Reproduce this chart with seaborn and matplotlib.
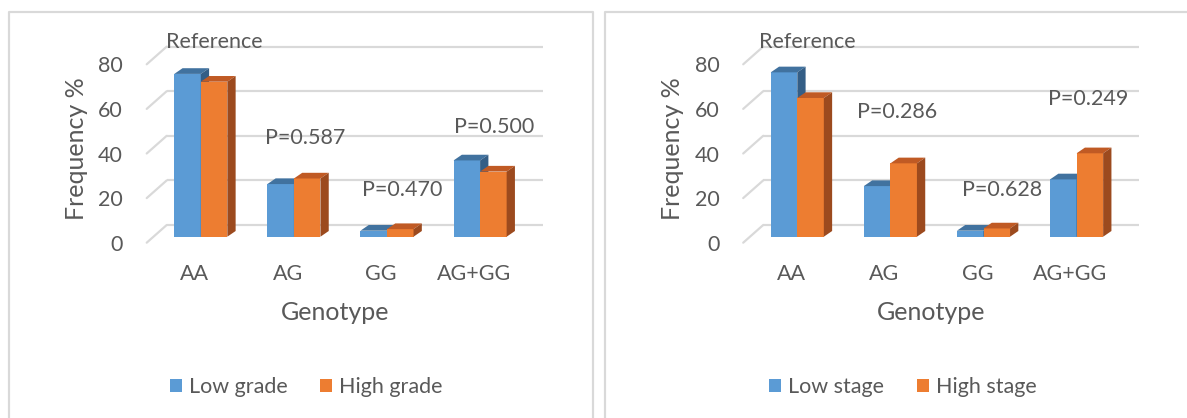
import numpy as np
import pandas as pd
import matplotlib
matplotlib.use("Agg")
import matplotlib.pyplot as plt
from matplotlib.patches import Polygon
from matplotlib.lines import Line2D
import seaborn as sns

# ---- data -------------------------------------------------------------
genotypes = ["AA", "AG", "GG", "AG+GG"]

grade_groups = ["Low grade", "High grade"]
grade_low = [73.0, 23.6, 2.7, 34.2]
grade_high = [69.5, 26.1, 3.4, 29.2]
grade_pvalues = ["P=0.587", "P=0.470", "P=0.500"]

stage_groups = ["Low stage", "High stage"]
stage_low = [73.7, 22.7, 2.7, 25.7]
stage_high = [62.2, 32.9, 3.7, 37.4]
stage_pvalues = ["P=0.286", "P=0.628", "P=0.249"]

y_ticks = [0, 20, 40, 60, 80]

# annotation anchors (category units, percent units)
grade_ref_pos = (0.142, 87.1)
grade_p_pos = [(1.119, 44.3), (2.158, 20.9), (3.150, 49.2)]
stage_ref_pos = (0.110, 87.5)
stage_p_pos = [(1.068, 55.9), (2.201, 20.9), (3.126, 61.7)]

# ---- style ------------------------------------------------------------
sns.set_theme(style="white")
plt.rcParams["font.family"] = ["Lato", "DejaVu Sans"]

TEXT = "#595959"
GRID = "#d9d9d9"
FRONT = ["#5B9BD5", "#ED7D31"]
TOP = ["#41729F", "#C05A24"]
SIDE = ["#345E86", "#9C4A1E"]

W, H = 1187, 418
DPI = 100
CAT_PX = 93.1     # pixels per category step
UNIT_PX = 2.23    # pixels per percentage point
TICK_FS = 15.5
TITLE_FS = 18

# oblique depth offsets
BAR_DX, BAR_DY = 8.3 / CAT_PX, 5.7 / UNIT_PX
BACK_DY = 11.7 / UNIT_PX
FRONT_DY = -6.0 / UNIT_PX
BACK_X0, BACK_X1 = -34.1 / CAT_PX, 341.9 / CAT_PX
FRONT_X = -54.1 / CAT_PX

fig = plt.figure(figsize=(W / DPI, H / DPI), dpi=DPI)
fig.patch.set_facecolor("white")


def px2pt(p):
    return p * 72.0 / DPI


def fig_line(xs, ys):
    fig.add_artist(Line2D([x / W for x in xs], [1 - y / H for y in ys],
                          color=GRID, lw=px2pt(2.2), transform=fig.transFigure))


def draw_panel(ox, low, high, groups, pvals, p_pos, ref_pos):
    oy = 236.7
    left, right, top, bottom = ox - 70.8, ox + 359.2, 30.0, 250.0
    ax = fig.add_axes([left / W, 1 - bottom / H, (right - left) / W, (bottom - top) / H])

    df = pd.DataFrame({
        "Genotype": genotypes * 2,
        "Group": [groups[0]] * len(genotypes) + [groups[1]] * len(genotypes),
        "Frequency": list(low) + list(high),
    })
    sns.barplot(data=df, x="Genotype", y="Frequency", hue="Group",
                palette=FRONT, saturation=1, width=0.57, errorbar=None,
                linewidth=0, ax=ax)

    ax.set_xlim((left - ox) / CAT_PX, (right - ox) / CAT_PX)
    ax.set_ylim(-(bottom - oy) / UNIT_PX, (oy - top) / UNIT_PX)

    # back wall gridlines with their receding floor edges
    for v in y_ticks:
        ax.plot([BACK_X0, BACK_X1], [v + BACK_DY] * 2, color=GRID, lw=px2pt(2.2),
                zorder=0.5, solid_capstyle="butt")
        ax.plot([FRONT_X, BACK_X0], [v + FRONT_DY, v + BACK_DY], color=GRID,
                lw=px2pt(2.2), zorder=0.5)

    # extrude each bar: top and right side faces
    for k, cont in enumerate(ax.containers):
        for bar in cont:
            x, w, h = bar.get_x(), bar.get_width(), bar.get_height()
            bar.set_zorder(2 + k)
            topf = Polygon([(x, h), (x + w, h), (x + w + BAR_DX, h + BAR_DY),
                            (x + BAR_DX, h + BAR_DY)], closed=True,
                           facecolor=TOP[k], edgecolor="none", zorder=2 + k)
            side = Polygon([(x + w, 0), (x + w, h), (x + w + BAR_DX, h + BAR_DY),
                            (x + w + BAR_DX, BAR_DY)], closed=True,
                           facecolor=SIDE[k], edgecolor="none", zorder=2 + k)
            ax.add_patch(topf)
            ax.add_patch(side)

    ax.set_yticks([v + FRONT_DY for v in y_ticks], labels=[str(v) for v in y_ticks])
    ax.set_xticks(np.arange(len(genotypes)) - 0.065, labels=genotypes)
    ax.tick_params(axis="y", length=0, pad=px2pt(7), labelsize=TICK_FS, labelcolor=TEXT)
    ax.tick_params(axis="x", length=0, pad=px2pt(14), labelsize=TICK_FS, labelcolor=TEXT)
    for s in ax.spines.values():
        s.set_visible(False)
    ax.set_facecolor("none")

    ax.set_ylabel("Frequency %", fontsize=TITLE_FS, color=TEXT, va="center")
    ax.yaxis.set_label_coords((ox - 124.8 - left) / (right - left), (bottom - 149) / (bottom - top))
    ax.set_xlabel("Genotype", fontsize=TITLE_FS, color=TEXT, va="center")
    ax.xaxis.set_label_coords((ox + 134.2 - left) / (right - left), (bottom - 313) / (bottom - top))

    ax.text(ref_pos[0], ref_pos[1], "Reference", ha="center", va="center",
            fontsize=TICK_FS, color=TEXT, zorder=5)
    for s, (px, py) in zip(pvals, p_pos):
        ax.text(px, py, s, ha="center", va="center", fontsize=TICK_FS,
                color=TEXT, zorder=5)

    sns.move_legend(ax, "center", bbox_to_anchor=((ox + 105.7 - left) / (right - left),
                                                  (bottom - 387) / (bottom - top)),
                    ncol=2, frameon=False, title=None, fontsize=TICK_FS,
                    handlelength=0.56, handleheight=0.56, handletextpad=0.33,
                    columnspacing=1.5)
    for t in ax.get_legend().get_texts():
        t.set_color(TEXT)
    return ax


draw_panel(200.8, grade_low, grade_high, grade_groups, grade_pvalues,
           grade_p_pos, grade_ref_pos)
draw_panel(797.3, stage_low, stage_high, stage_groups, stage_pvalues,
           stage_p_pos, stage_ref_pos)

# chart-area frames
fig_line([9.5, 9.5, 592.5, 592.5], [H + 2, 11.7, 11.7, H + 2])
fig_line([605, 605, W + 2], [H + 2, 11.7, 11.7])

fig.savefig("out.png", dpi=DPI, facecolor="white")
